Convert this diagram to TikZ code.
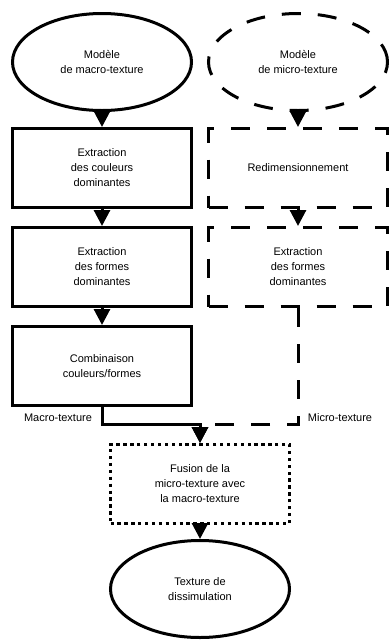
\documentclass[tikz,border=0pt]{standalone}
\usepackage{fontspec}
\setmainfont{Liberation Sans}
\usepackage{tikz}
\usetikzlibrary{shapes.geometric,arrows.meta}
\tikzset{x=1pt, y=-1pt,
    every node/.style={font=\fontsize{11}{15}\selectfont, align=center},
    model ellipse/.style={ellipse, draw=black, line width=3pt,
           minimum width=179pt, minimum height=97pt, inner sep=0pt},
    process box/.style={rectangle, draw=black, line width=3pt,
           minimum width=179pt, minimum height=79pt, inner sep=0pt},
    long dashes/.style={dash pattern=on 19pt off 17pt},
    small dots/.style={dash pattern=on 3.3pt off 3.6pt},
    flow arrow/.style={line width=3pt, line join=miter,
           -{Triangle[width=16pt,length=16pt]}}
}
\begin{document}
\begin{tikzpicture}
\useasboundingbox (0,0) rectangle (390,641);
% sources
\node (macro) [model ellipse] at (102,62) {Mod\`ele\\de macro-texture};
\node (micro) [model ellipse, long dashes] at (298,62) {Mod\`ele\\de micro-texture};
% left column
\node (couleurs) [process box] at (102,168) {Extraction\\des couleurs\\dominantes};
\node (formesG) [process box] at (102,267) {Extraction\\des formes\\dominantes};
\node (combi) [process box] at (102,366) {Combinaison\\couleurs/formes};
% right column
\node (redim) [process box, long dashes] at (298,168) {Redimensionnement};
\node (formesD) [process box, long dashes] at (298,267) {Extraction\\des formes\\dominantes};
% merge
\node (fusion) [process box, small dots] at (200,484) {Fusion de la\\micro-texture avec\\la macro-texture};
\node (texture) [model ellipse] at (200,589) {Texture de\\dissimulation};
\coordinate (join) at (200,424);
\node (macrolbl) at (58,418) {Macro-texture};
\node (microlbl) at (340,418) {Micro-texture};

\draw[flow arrow] (macro) -- (couleurs);
\draw[flow arrow] (couleurs) -- (formesG);
\draw[flow arrow] (formesG) -- (combi);
\draw[flow arrow, long dashes] (micro) -- (redim);
\draw[flow arrow, long dashes] (redim) -- (formesD);
\draw[flow arrow, long dashes] (formesD.south) |- (join) -- (fusion.north);
\draw[flow arrow] (combi.south) |- (join) -- (fusion.north);
\draw[flow arrow] (fusion) -- (texture);
\end{tikzpicture}
\end{document}
